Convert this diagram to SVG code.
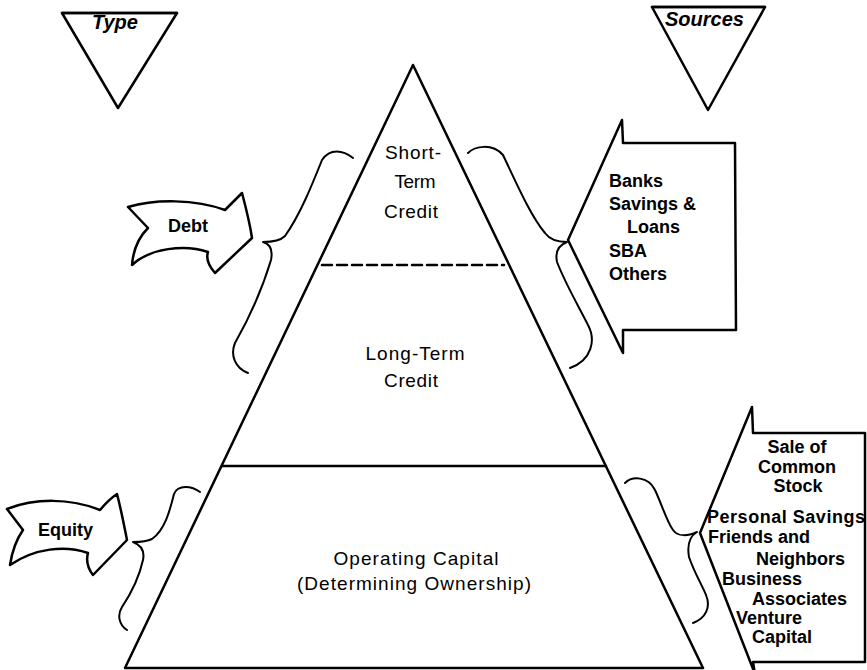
<svg xmlns="http://www.w3.org/2000/svg" width="867" height="670" viewBox="0 0 867 670">
<style>
  .ln { fill: none; stroke: #000; stroke-width: 2.5; stroke-linejoin: round; stroke-linecap: round; }
  .shape { fill: #fff; stroke: #000; stroke-width: 2.5; stroke-linejoin: round; }
  .brace { fill: none; stroke: #000; stroke-width: 2; stroke-linecap: round; stroke-linejoin: round; }
  .pl { font-family: "Liberation Sans", Arial, sans-serif; font-size: 19px; fill: #000; text-anchor: middle; }
  .bl { font-family: "Liberation Sans", Arial, sans-serif; font-size: 18px; font-weight: bold; fill: #000; }
  .hd { font-family: "Liberation Sans", Arial, sans-serif; font-size: 20px; font-weight: bold; font-style: italic; fill: #000; }
</style>
<rect width="867" height="670" fill="#fff"/>

<g id="type-heading">
  <polygon class="shape" points="62,13 177,13 118,108"/>
  <line class="ln" x1="62" y1="13" x2="177" y2="13" stroke-width="3.2"/>
  <text class="hd" x="92" y="29">Type</text>
</g>

<g id="sources-heading">
  <polygon class="shape" points="652,7 765,7 708,110"/>
  <line class="ln" x1="652" y1="7" x2="765" y2="7" stroke-width="3.2"/>
  <text class="hd" x="665" y="26">Sources</text>
</g>

<g id="pyramid">
  <polygon class="shape" points="413,65 703,668 125,668" stroke-width="2.8"/>
  <line class="ln" x1="222" y1="466" x2="606" y2="466"/>
  <line class="ln" x1="322" y1="265" x2="504" y2="265" stroke-width="2" stroke-dasharray="10,5" stroke-linecap="butt"/>
  <g id="short-term-credit">
    <text class="pl" x="413" y="159" textLength="56">Short-</text>
    <text class="pl" x="415" y="188" textLength="41">Term</text>
    <text class="pl" x="411" y="218" textLength="54">Credit</text>
  </g>
  <g id="long-term-credit">
    <text class="pl" x="415" y="360" textLength="99">Long-Term</text>
    <text class="pl" x="411" y="387" textLength="54">Credit</text>
  </g>
  <g id="operating-capital">
    <text class="pl" x="416" y="565" textLength="165">Operating Capital</text>
    <text class="pl" x="414" y="590" textLength="234">(Determining Ownership)</text>
  </g>
</g>

<g id="debt">
  <path class="shape" d="M128,207 C155,199 195,199 225,210 C231,204 237,198 242,193 C246,208 250,224 252,238 L215,273 C208,265 206,258 208,252 C185,244 150,248 132,265 C133,252 138,238 148,228 Z"/>
  <text class="bl" x="168" y="232">Debt</text>
</g>

<g id="equity">
  <path class="shape" d="M7,509 C35,498 70,498 100,510 C105,504 111,498 117,494 C121,509 124,525 127,540 L93,575 C87,567 86,560 88,553 C65,545 35,548 10,565 C12,552 16,540 23,530 Z"/>
  <text class="bl" x="38" y="536">Equity</text>
</g>

<g id="debt-sources">
  <path class="shape" d="M622,120 L623,143 L735,143 L736,330 L623,330 L623,353 L568,240 Z"/>
  <text class="bl" x="609" y="187">Banks</text>
  <text class="bl" x="609" y="210">Savings &amp;</text>
  <text class="bl" x="627" y="233">Loans</text>
  <text class="bl" x="609" y="257">SBA</text>
  <text class="bl" x="609" y="280">Others</text>
</g>

<g id="equity-sources">
  <path class="shape" d="M752,407 L753,433 L865,433 L865,662 L753,662 L755,674 L700,533 Z"/>
  <text class="bl" x="797" y="453" text-anchor="middle">Sale of</text>
  <text class="bl" x="797" y="473" text-anchor="middle">Common</text>
  <text class="bl" x="798" y="492" text-anchor="middle">Stock</text>
  <text class="bl" x="707" y="523" textLength="158">Personal Savings</text>
  <text class="bl" x="708" y="543">Friends and</text>
  <text class="bl" x="756" y="565">Neighbors</text>
  <text class="bl" x="722" y="585">Business</text>
  <text class="bl" x="752" y="605">Associates</text>
  <text class="bl" x="736" y="624">Venture</text>
  <text class="bl" x="752" y="643">Capital</text>
</g>

<g id="connectors">
  <path class="brace" d="M353,158 C343,150 330,148 322,160 C312,185 300,215 285,236 C280,241 272,242 263,242 C270,244 273,250 271,260 C262,290 248,320 235,343 C230,355 235,368 248,373"/>
  <path class="brace" d="M468,153 C475,146 492,143 503,155 C515,180 530,215 545,233 C550,240 558,242 567,242 C559,245 555,252 557,262 C566,285 578,305 588,325 C596,340 592,360 570,368"/>
  <path class="brace" d="M200,492 C192,486 178,484 174,494 C170,510 165,530 152,539 C146,542 140,542 133,542 C141,545 145,550 143,560 C139,578 130,595 122,607 C117,615 119,625 127,630"/>
  <path class="brace" d="M625,483 C632,476 648,476 655,490 C662,505 667,522 673,530 C678,537 688,536 697,532 C690,536 687,545 689,557 C694,572 702,585 706,595 C711,607 706,618 693,623"/>
</g>
</svg>
